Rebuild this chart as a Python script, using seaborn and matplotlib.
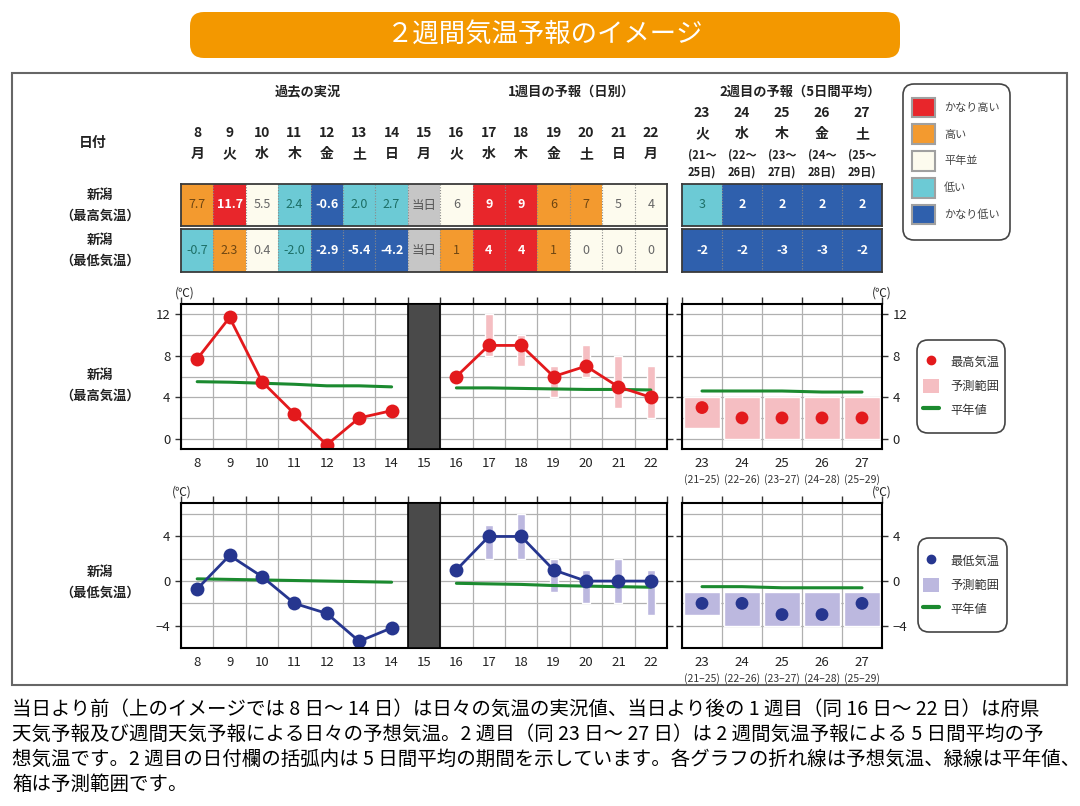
import numpy as np
import matplotlib
matplotlib.use("Agg")
import matplotlib.pyplot as plt
import seaborn as sns
from matplotlib.colors import ListedColormap
from matplotlib.patches import Patch, Rectangle, FancyBboxPatch
from matplotlib.lines import Line2D
from matplotlib import transforms

# ------------------------------------------------------------
# Données
# ------------------------------------------------------------

days_w1 = list(range(8, 23))
weekdays_w1 = ["月", "火", "水", "木", "金", "土", "日", "月", "火", "水", "木", "金", "土", "日", "月"]
today = 15
days_w2 = [23, 24, 25, 26, 27]
weekdays_w2 = ["火", "水", "木", "金", "土"]
period_start = [21, 22, 23, 24, 25]
period_end = [25, 26, 27, 28, 29]

# tableau : textes et catégories (0 かなり高い ... 4 かなり低い, 5 当日)
tmax_cells_w1 = ["7.7", "11.7", "5.5", "2.4", "-0.6", "2.0", "2.7", "当日", "6", "9", "9", "6", "7", "5", "4"]
tmax_cats_w1 = [1, 0, 2, 3, 4, 3, 3, 5, 2, 0, 0, 1, 1, 2, 2]
tmin_cells_w1 = ["-0.7", "2.3", "0.4", "-2.0", "-2.9", "-5.4", "-4.2", "当日", "1", "4", "4", "1", "0", "0", "0"]
tmin_cats_w1 = [3, 1, 2, 3, 4, 4, 4, 5, 1, 0, 0, 1, 2, 2, 2]
tmax_cells_w2 = ["3", "2", "2", "2", "2"]
tmax_cats_w2 = [3, 4, 4, 4, 4]
tmin_cells_w2 = ["-2", "-2", "-3", "-3", "-2"]
tmin_cats_w2 = [4, 4, 4, 4, 4]

cat_labels = ["かなり高い", "高い", "平年並", "低い", "かなり低い"]
cat_colors = ["#e8262b", "#f39a2f", "#fdfbee", "#6ccad5", "#2f60ad", "#c6c6c6"]
cat_text = {0: ("white", "bold"), 1: ("#6e4612", "normal"), 2: ("#666666", "normal"),
            3: ("#1d6f66", "normal"), 4: ("white", "bold"), 5: ("#555555", "normal")}

# graphiques
past_days = [8, 9, 10, 11, 12, 13, 14]
fc_days = [16, 17, 18, 19, 20, 21, 22]
range_days = [17, 18, 19, 20, 21, 22]

tmax_past = [7.7, 11.7, 5.5, 2.4, -0.6, 2.0, 2.7]
tmax_fc = [6, 9, 9, 6, 7, 5, 4]
tmax_fc_lo = [8, 7, 4, 6, 3, 2]
tmax_fc_hi = [12, 10, 7, 9, 8, 7]
tmax_w2 = [3, 2, 2, 2, 2]
tmax_w2_lo = [1, 0, 0, 0, 0]
tmax_w2_hi = [4, 4, 4, 4, 4]
tmax_norm_past = [5.5, 5.45, 5.35, 5.25, 5.1, 5.1, 5.0]
tmax_norm_fc = [4.9, 4.9, 4.85, 4.8, 4.75, 4.75, 4.7]
tmax_norm_w2 = [4.6, 4.6, 4.6, 4.5, 4.5]

tmin_past = [-0.7, 2.3, 0.4, -2.0, -2.9, -5.4, -4.2]
tmin_fc = [1, 4, 4, 1, 0, 0, 0]
tmin_fc_lo = [2, 2, -1, -2, -2, -3]
tmin_fc_hi = [5, 6, 2, 1, 2, 1]
tmin_w2 = [-2, -2, -3, -3, -2]
tmin_w2_lo = [-3, -4, -4, -4, -4]
tmin_w2_hi = [-1, -1, -1, -1, -1]
tmin_norm_past = [0.2, 0.15, 0.1, 0.05, 0.0, -0.05, -0.1]
tmin_norm_fc = [-0.2, -0.25, -0.3, -0.4, -0.45, -0.5, -0.55]
tmin_norm_w2 = [-0.5, -0.5, -0.6, -0.6, -0.6]

caption = [
    "当日より前（上のイメージでは 8 日～ 14 日）は日々の気温の実況値、当日より後の 1 週目（同 16 日～ 22 日）は府県",
    "天気予報及び週間天気予報による日々の予想気温。2 週目（同 23 日～ 27 日）は 2 週間気温予報による 5 日間平均の予",
    "想気温です。2 週目の日付欄の括弧内は 5 日間平均の期間を示しています。各グラフの折れ線は予想気温、緑線は平年値、",
    "箱は予測範囲です。",
]

RED, PINK = "#e3191c", "#f5bec2"
NAVY, LAV = "#26368f", "#bcb8df"
GREEN = "#1b8a2f"

# ------------------------------------------------------------
# Figure
# ------------------------------------------------------------

sns.set_style("white")
plt.rcParams["font.family"] = ["Noto Sans CJK JP", "DejaVu Sans"]

W, H = 1080, 806
fig = plt.figure(figsize=(W / 100, H / 100), dpi=100)


def rect(x0, y0, x1, y1):
    return [x0 / W, 1 - y1 / H, (x1 - x0) / W, (y1 - y0) / H]


ov = fig.add_axes([0, 0, 1, 1], zorder=-1)
ov.set_xlim(0, W)
ov.set_ylim(H, 0)
ov.axis("off")

ov.add_patch(FancyBboxPatch((190, 12), 710, 46, boxstyle="round,pad=0,rounding_size=14",
                            fc="#f39800", ec="none"))
ov.text(545, 35, "２週間気温予報のイメージ", color="white", fontsize=19, ha="center", va="center")
ov.add_patch(Rectangle((12, 73), 1055, 612, fill=False, ec="#666666", lw=1.5))

for i, line in enumerate(caption):
    ov.text(12, 709 + i * 25, line, fontsize=14, ha="left", va="center", color="black")

ov.text(308, 92, "過去の実況", fontsize=9.5, weight="bold", ha="center", va="center", color="#222")
ov.text(571, 92, "1週目の予報（日別）", fontsize=9.5, weight="bold", ha="center", va="center", color="#222")
ov.text(800, 92, "2週目の予報（5日間平均）", fontsize=9.5, weight="bold", ha="center", va="center", color="#222")
ov.text(93, 143, "日付", fontsize=10, weight="bold", ha="center", va="center", color="#222")
for yc, lab in [(205, "最高気温"), (250, "最低気温"), (385, "最高気温"), (582, "最低気温")]:
    ov.text(100, yc, "新潟\n（" + lab + "）", fontsize=9.5, weight="bold", ha="center", va="center",
            linespacing=1.6, color="#222")

# cadres arrondis des légendes
for x, y, w, h in [(903, 84, 107, 156), (917, 340, 88, 93), (918, 538, 89, 94)]:
    ov.add_patch(FancyBboxPatch((x, y), w, h, boxstyle="round,pad=0,rounding_size=11",
                                fc="white", ec="#444444", lw=1.2))

# ------------------------------------------------------------
# Tableau (heatmaps)
# ------------------------------------------------------------

cat_cmap = ListedColormap(cat_colors)


def draw_row(ax, cells, cats):
    sns.heatmap(np.array([cats]), ax=ax, cmap=cat_cmap, vmin=-0.5, vmax=5.5, cbar=False,
                annot=np.array([cells]), fmt="", xticklabels=False, yticklabels=False,
                annot_kws={"fontsize": 9})
    for txt, c in zip(ax.texts, cats):
        txt.set_color(cat_text[c][0])
        txt.set_fontweight(cat_text[c][1])
    ax.vlines(np.arange(1, len(cats)), 0, 1, colors="#8a8a8a", linestyles=(0, (1, 1.5)), lw=0.8)
    for s in ax.spines.values():
        s.set_visible(True)
        s.set_color("#3a3a3a")
        s.set_linewidth(1.3)


t_max1 = fig.add_axes(rect(181, 184, 667, 226))
t_min1 = fig.add_axes(rect(181, 229, 667, 272))
t_max2 = fig.add_axes(rect(682, 184, 882, 226))
t_min2 = fig.add_axes(rect(682, 229, 882, 272))
draw_row(t_max1, tmax_cells_w1, tmax_cats_w1)
draw_row(t_min1, tmin_cells_w1, tmin_cats_w1)
draw_row(t_max2, tmax_cells_w2, tmax_cats_w2)
draw_row(t_min2, tmin_cells_w2, tmin_cats_w2)

tr1 = transforms.blended_transform_factory(t_max1.transData, ov.transData)
for i, (d, wd) in enumerate(zip(days_w1, weekdays_w1)):
    ov.text(i + 0.5, 133, str(d), transform=tr1, fontsize=10, weight="bold", ha="center", va="center", color="#222")
    ov.text(i + 0.5, 154, wd, transform=tr1, fontsize=10, weight="bold", ha="center", va="center", color="#222")

tr2 = transforms.blended_transform_factory(t_max2.transData, ov.transData)
for i, (d, wd) in enumerate(zip(days_w2, weekdays_w2)):
    ov.text(i + 0.5, 113, str(d), transform=tr2, fontsize=10, weight="bold", ha="center", va="center", color="#222")
    ov.text(i + 0.5, 134, wd, transform=tr2, fontsize=10, weight="bold", ha="center", va="center", color="#222")
    ov.text(i + 0.5, 155, "(%d～" % period_start[i], transform=tr2, fontsize=8, weight="bold",
            ha="center", va="center", color="#222")
    ov.text(i + 0.5, 172, "%d日)" % period_end[i], transform=tr2, fontsize=8, weight="bold",
            ha="center", va="center", color="#222")

fig.legend(handles=[Patch(fc=c, ec="#a0a0a0", lw=1.5) for c in cat_colors[:5]], labels=cat_labels,
           loc="center", bbox_to_anchor=(956 / W, 1 - 161 / H), borderaxespad=0,
           fontsize=8, labelcolor="#444", handlelength=2.1, handleheight=2.3, labelspacing=0.68,
           handletextpad=0.8, frameon=False)

# ------------------------------------------------------------
# Graphiques
# ------------------------------------------------------------


def style_chart(ax, x0, x1, ylim, major_y, minor_y, days, right=False):
    ax.set_xlim(x0, x1)
    ax.set_ylim(*ylim)
    ax.set_xticks(np.arange(x0, x1 + 0.01, 1))
    ax.set_xticklabels([])
    ax.set_xticks(days, minor=True)
    ax.set_xticklabels([str(d) for d in days], minor=True)
    ax.set_yticks(major_y)
    ax.set_yticks(minor_y, minor=True)
    ax.set_axisbelow(True)
    ax.grid(True, which="major", axis="x", color="#b0b0b0", lw=0.9)
    ax.grid(True, which="both", axis="y", color="#b0b0b0", lw=0.9)
    ax.tick_params(axis="x", which="major", length=5, width=1, direction="out", top=True, color="#333")
    ax.tick_params(axis="x", which="minor", length=0, pad=6, labelsize=9.5, labelcolor="#222")
    ax.tick_params(axis="y", which="major", length=4, width=1, direction="out", left=True, right=True,
                   labelleft=not right, labelright=right, labelsize=9.5, labelcolor="#222", color="#333")
    ax.tick_params(axis="y", which="minor", length=0)
    for s in ax.spines.values():
        s.set_visible(True)
        s.set_color("black")
        s.set_linewidth(1.5)
    ax.set(xlabel="", ylabel="")


def draw_daily(ax, past, fc, lo, hi, norm_past, norm_fc, col, rcol):
    ax.bar(range_days, np.array(hi) - np.array(lo), bottom=lo, width=0.25, color=rcol, zorder=1)
    sns.lineplot(x=past_days, y=norm_past, color=GREEN, lw=2.2, ax=ax)
    sns.lineplot(x=fc_days, y=norm_fc, color=GREEN, lw=2.2, ax=ax)
    sns.lineplot(x=past_days, y=past, color=col, lw=2, marker="o", markersize=10, markeredgewidth=0, ax=ax)
    sns.lineplot(x=fc_days, y=fc, color=col, lw=2, marker="o", markersize=10, markeredgewidth=0, ax=ax)
    ax.axvspan(today - 0.5, today + 0.5, fc="#4a4a4a", ec="black", lw=1.2, zorder=3)


def draw_week2(ax, vals, lo, hi, norm, col, rcol):
    ax.bar(days_w2, np.array(hi) - np.array(lo), bottom=lo, width=0.88, color=rcol, zorder=1)
    sns.lineplot(x=days_w2, y=norm, color=GREEN, lw=2.2, ax=ax)
    sns.scatterplot(x=days_w2, y=vals, color=col, s=85, edgecolor="none", ax=ax, zorder=4)
    sub = transforms.blended_transform_factory(ax.transData, ax.transAxes)
    for d, a, b in zip(days_w2, period_start, period_end):
        ax.annotate("(%d–%d)" % (a, b), xy=(d, 0), xycoords=sub, xytext=(0, -22),
                    textcoords="offset points", ha="center", va="center", fontsize=7.5, color="#333")


c_max1 = fig.add_axes(rect(181, 304, 667, 449))
c_max2 = fig.add_axes(rect(682, 304, 882, 449))
c_min1 = fig.add_axes(rect(181, 503, 667, 648))
c_min2 = fig.add_axes(rect(682, 503, 882, 648))

draw_daily(c_max1, tmax_past, tmax_fc, tmax_fc_lo, tmax_fc_hi, tmax_norm_past, tmax_norm_fc, RED, PINK)
draw_week2(c_max2, tmax_w2, tmax_w2_lo, tmax_w2_hi, tmax_norm_w2, RED, PINK)
draw_daily(c_min1, tmin_past, tmin_fc, tmin_fc_lo, tmin_fc_hi, tmin_norm_past, tmin_norm_fc, NAVY, LAV)
draw_week2(c_min2, tmin_w2, tmin_w2_lo, tmin_w2_hi, tmin_norm_w2, NAVY, LAV)

style_chart(c_max1, 7.5, 22.5, (-1, 13), [0, 4, 8, 12], [2, 6, 10], days_w1)
style_chart(c_max2, 22.5, 27.5, (-1, 13), [0, 4, 8, 12], [2, 6, 10], days_w2, right=True)
style_chart(c_min1, 7.5, 22.5, (-6, 7), [-4, 0, 4], [-2, 2, 6], days_w1)
style_chart(c_min2, 22.5, 27.5, (-6, 7), [-4, 0, 4], [-2, 2, 6], days_w2, right=True)

for x, y in [(185, 293), (882, 293), (182, 492), (882, 492)]:
    ov.text(x, y, "(℃)", fontsize=8.5, ha="center", va="center", color="#222")

for yc, lab in [(386, "最高気温"), (585, "最低気温")]:
    col, rcol = (RED, PINK) if lab == "最高気温" else (NAVY, LAV)
    hl = [Line2D([], [], marker="o", ls="", color=col, markersize=6),
          Patch(fc=rcol, ec="none"),
          Line2D([], [], color=GREEN, lw=3)]
    fig.legend(handles=hl, labels=[lab, "予測範囲", "平年値"], loc="center",
               bbox_to_anchor=(961 / W, 1 - yc / H), borderaxespad=0, fontsize=8.8, labelcolor="#333",
               handlelength=1.3, handleheight=1.5, labelspacing=0.75, handletextpad=0.9, frameon=False)

fig.savefig("out.png", dpi=100)
